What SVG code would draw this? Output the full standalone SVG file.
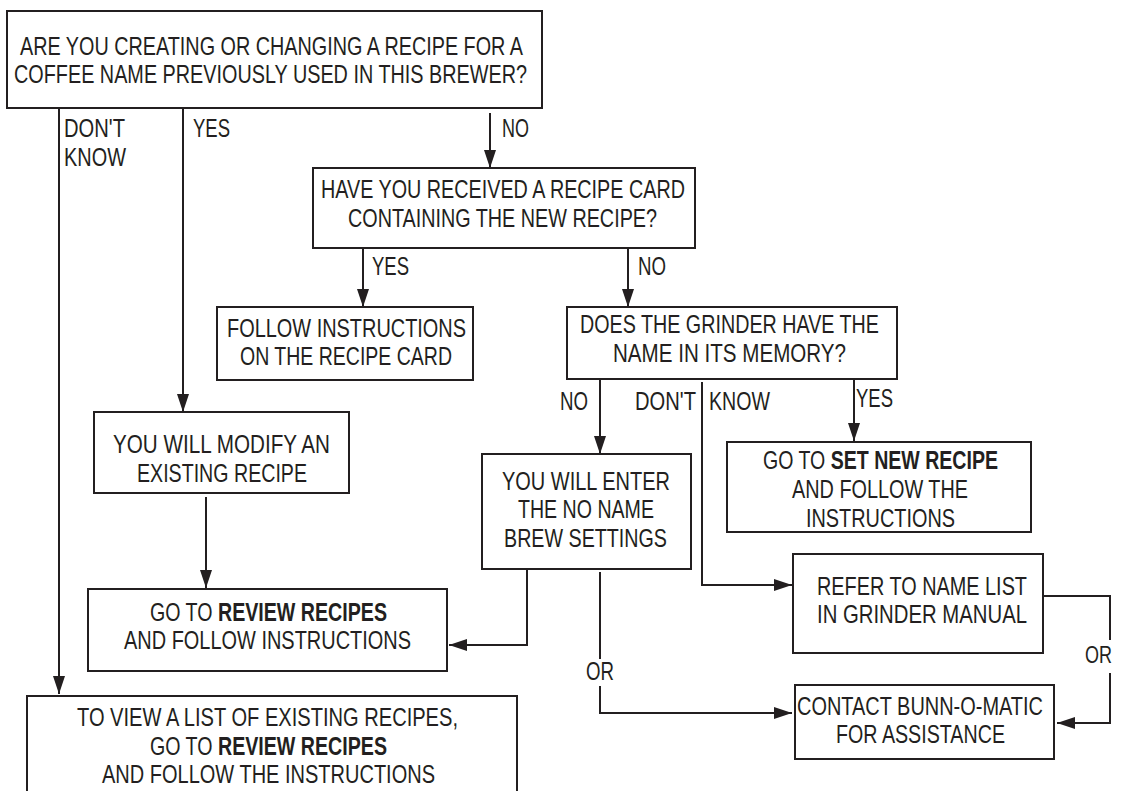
<svg xmlns="http://www.w3.org/2000/svg" width="1123" height="791" viewBox="0 0 1123 791">
<style>
  .box { fill: #fff; stroke: #231f20; stroke-width: 2; }
  .t { font-family: "Liberation Sans Narrow", "Liberation Sans", Arial, sans-serif; font-size: 25px; fill: #231f20; }
  .b { font-weight: bold; }
  .c { fill: none; stroke: #231f20; stroke-width: 2; }
</style>
<defs>
  <marker id="arr" markerUnits="userSpaceOnUse" markerWidth="18" markerHeight="12" refX="18" refY="6" orient="auto">
    <path d="M0,0 L18,6 L0,12 z" fill="#231f20"/>
  </marker>
</defs>
<rect width="1123" height="791" fill="#fff"/>

<g id="connectors">
  <path class="c" d="M59,108 V694" marker-end="url(#arr)"/>
  <path class="c" d="M183,108 V412" marker-end="url(#arr)"/>
  <path class="c" d="M490,113 V168" marker-end="url(#arr)"/>
  <path class="c" d="M363,248 V307" marker-end="url(#arr)"/>
  <path class="c" d="M628,248 V307" marker-end="url(#arr)"/>
  <path class="c" d="M600,379 V454" marker-end="url(#arr)"/>
  <path class="c" d="M702,382 V585 H792" marker-end="url(#arr)"/>
  <path class="c" d="M854,379 V441" marker-end="url(#arr)"/>
  <path class="c" d="M206,497 V588" marker-end="url(#arr)"/>
  <path class="c" d="M527,569 V645 H449" marker-end="url(#arr)"/>
  <path class="c" d="M600,572 V659"/>
  <path class="c" d="M600,686 V713 H792" marker-end="url(#arr)"/>
  <path class="c" d="M1043,596 H1110 V640"/>
  <path class="c" d="M1110,673 V723 H1057" marker-end="url(#arr)"/>
  <text class="t" x="64" y="137" textLength="61" lengthAdjust="spacingAndGlyphs">DON'T</text>
  <text class="t" x="64" y="166" textLength="62" lengthAdjust="spacingAndGlyphs">KNOW</text>
  <text class="t" x="193" y="137" textLength="37" lengthAdjust="spacingAndGlyphs">YES</text>
  <text class="t" x="502" y="137" textLength="27" lengthAdjust="spacingAndGlyphs">NO</text>
  <text class="t" x="372" y="275" textLength="37" lengthAdjust="spacingAndGlyphs">YES</text>
  <text class="t" x="638" y="275" textLength="28" lengthAdjust="spacingAndGlyphs">NO</text>
  <text class="t" x="560" y="410" textLength="28" lengthAdjust="spacingAndGlyphs">NO</text>
  <text class="t" x="635" y="410" textLength="61" lengthAdjust="spacingAndGlyphs">DON'T</text>
  <text class="t" x="709" y="410" textLength="61" lengthAdjust="spacingAndGlyphs">KNOW</text>
  <text class="t" x="856" y="407" textLength="37" lengthAdjust="spacingAndGlyphs">YES</text>
  <text class="t" x="586" y="680" textLength="28" lengthAdjust="spacingAndGlyphs">OR</text>
  <text class="t" x="1085" y="663" style="font-size:24px" textLength="27" lengthAdjust="spacingAndGlyphs">OR</text>
</g>

<g id="q1">
  <rect class="box" x="7" y="11" width="535" height="97"/>
  <text class="t" x="20" y="55" textLength="503" lengthAdjust="spacingAndGlyphs">ARE YOU CREATING OR CHANGING A RECIPE FOR A</text>
  <text class="t" x="14" y="83" textLength="513" lengthAdjust="spacingAndGlyphs">COFFEE NAME PREVIOUSLY USED IN THIS BREWER?</text>
</g>

<g id="q2">
  <rect class="box" x="313" y="168" width="382" height="80"/>
  <text class="t" x="321" y="198" textLength="364" lengthAdjust="spacingAndGlyphs">HAVE YOU RECEIVED A RECIPE CARD</text>
  <text class="t" x="348" y="227" textLength="309" lengthAdjust="spacingAndGlyphs">CONTAINING THE NEW RECIPE?</text>
</g>

<g id="follow">
  <rect class="box" x="217" y="307" width="256" height="73"/>
  <text class="t" x="227" y="337" textLength="239" lengthAdjust="spacingAndGlyphs">FOLLOW INSTRUCTIONS</text>
  <text class="t" x="240" y="365" textLength="212" lengthAdjust="spacingAndGlyphs">ON THE RECIPE CARD</text>
</g>

<g id="q3">
  <rect class="box" x="567" y="307" width="330" height="72"/>
  <text class="t" x="580" y="333" textLength="299" lengthAdjust="spacingAndGlyphs">DOES THE GRINDER HAVE THE</text>
  <text class="t" x="613" y="362" textLength="233" lengthAdjust="spacingAndGlyphs">NAME IN ITS MEMORY?</text>
</g>

<g id="modify">
  <rect class="box" x="94" y="412" width="255" height="81"/>
  <text class="t" x="113" y="453" textLength="217" lengthAdjust="spacingAndGlyphs">YOU WILL MODIFY AN</text>
  <text class="t" x="137" y="482" textLength="170" lengthAdjust="spacingAndGlyphs">EXISTING RECIPE</text>
</g>

<g id="setnew">
  <rect class="box" x="727" y="442" width="304" height="90"/>
  <text class="t" x="763" y="469" textLength="235" lengthAdjust="spacingAndGlyphs">GO TO <tspan class="b">SET NEW RECIPE</tspan></text>
  <text class="t" x="792" y="498" textLength="176" lengthAdjust="spacingAndGlyphs">AND FOLLOW THE</text>
  <text class="t" x="806" y="527" textLength="149" lengthAdjust="spacingAndGlyphs">INSTRUCTIONS</text>
</g>

<g id="noname">
  <rect class="box" x="482" y="454" width="209" height="115"/>
  <text class="t" x="502" y="490" textLength="168" lengthAdjust="spacingAndGlyphs">YOU WILL ENTER</text>
  <text class="t" x="518" y="518" textLength="136" lengthAdjust="spacingAndGlyphs">THE NO NAME</text>
  <text class="t" x="504" y="547" textLength="163" lengthAdjust="spacingAndGlyphs">BREW SETTINGS</text>
</g>

<g id="refer">
  <rect class="box" x="793" y="554" width="250" height="99"/>
  <text class="t" x="817" y="595" textLength="210" lengthAdjust="spacingAndGlyphs">REFER TO NAME LIST</text>
  <text class="t" x="817" y="623" textLength="210" lengthAdjust="spacingAndGlyphs">IN GRINDER MANUAL</text>
</g>

<g id="review">
  <rect class="box" x="88" y="589" width="359" height="82"/>
  <text class="t" x="150" y="621" textLength="237" lengthAdjust="spacingAndGlyphs">GO TO <tspan class="b">REVIEW RECIPES</tspan></text>
  <text class="t" x="124" y="649" textLength="287" lengthAdjust="spacingAndGlyphs">AND FOLLOW INSTRUCTIONS</text>
</g>

<g id="contact">
  <rect class="box" x="795" y="685" width="259" height="74"/>
  <text class="t" x="797" y="715" textLength="246" lengthAdjust="spacingAndGlyphs">CONTACT BUNN-O-MATIC</text>
  <text class="t" x="836" y="743" textLength="169" lengthAdjust="spacingAndGlyphs">FOR ASSISTANCE</text>
</g>

<g id="viewlist">
  <rect class="box" x="27" y="696" width="490" height="110"/>
  <text class="t" x="77" y="726" textLength="381" lengthAdjust="spacingAndGlyphs">TO VIEW A LIST OF EXISTING RECIPES,</text>
  <text class="t" x="150" y="755" textLength="237" lengthAdjust="spacingAndGlyphs">GO TO <tspan class="b">REVIEW RECIPES</tspan></text>
  <text class="t" x="102" y="783" textLength="333" lengthAdjust="spacingAndGlyphs">AND FOLLOW THE INSTRUCTIONS</text>
</g>
</svg>
